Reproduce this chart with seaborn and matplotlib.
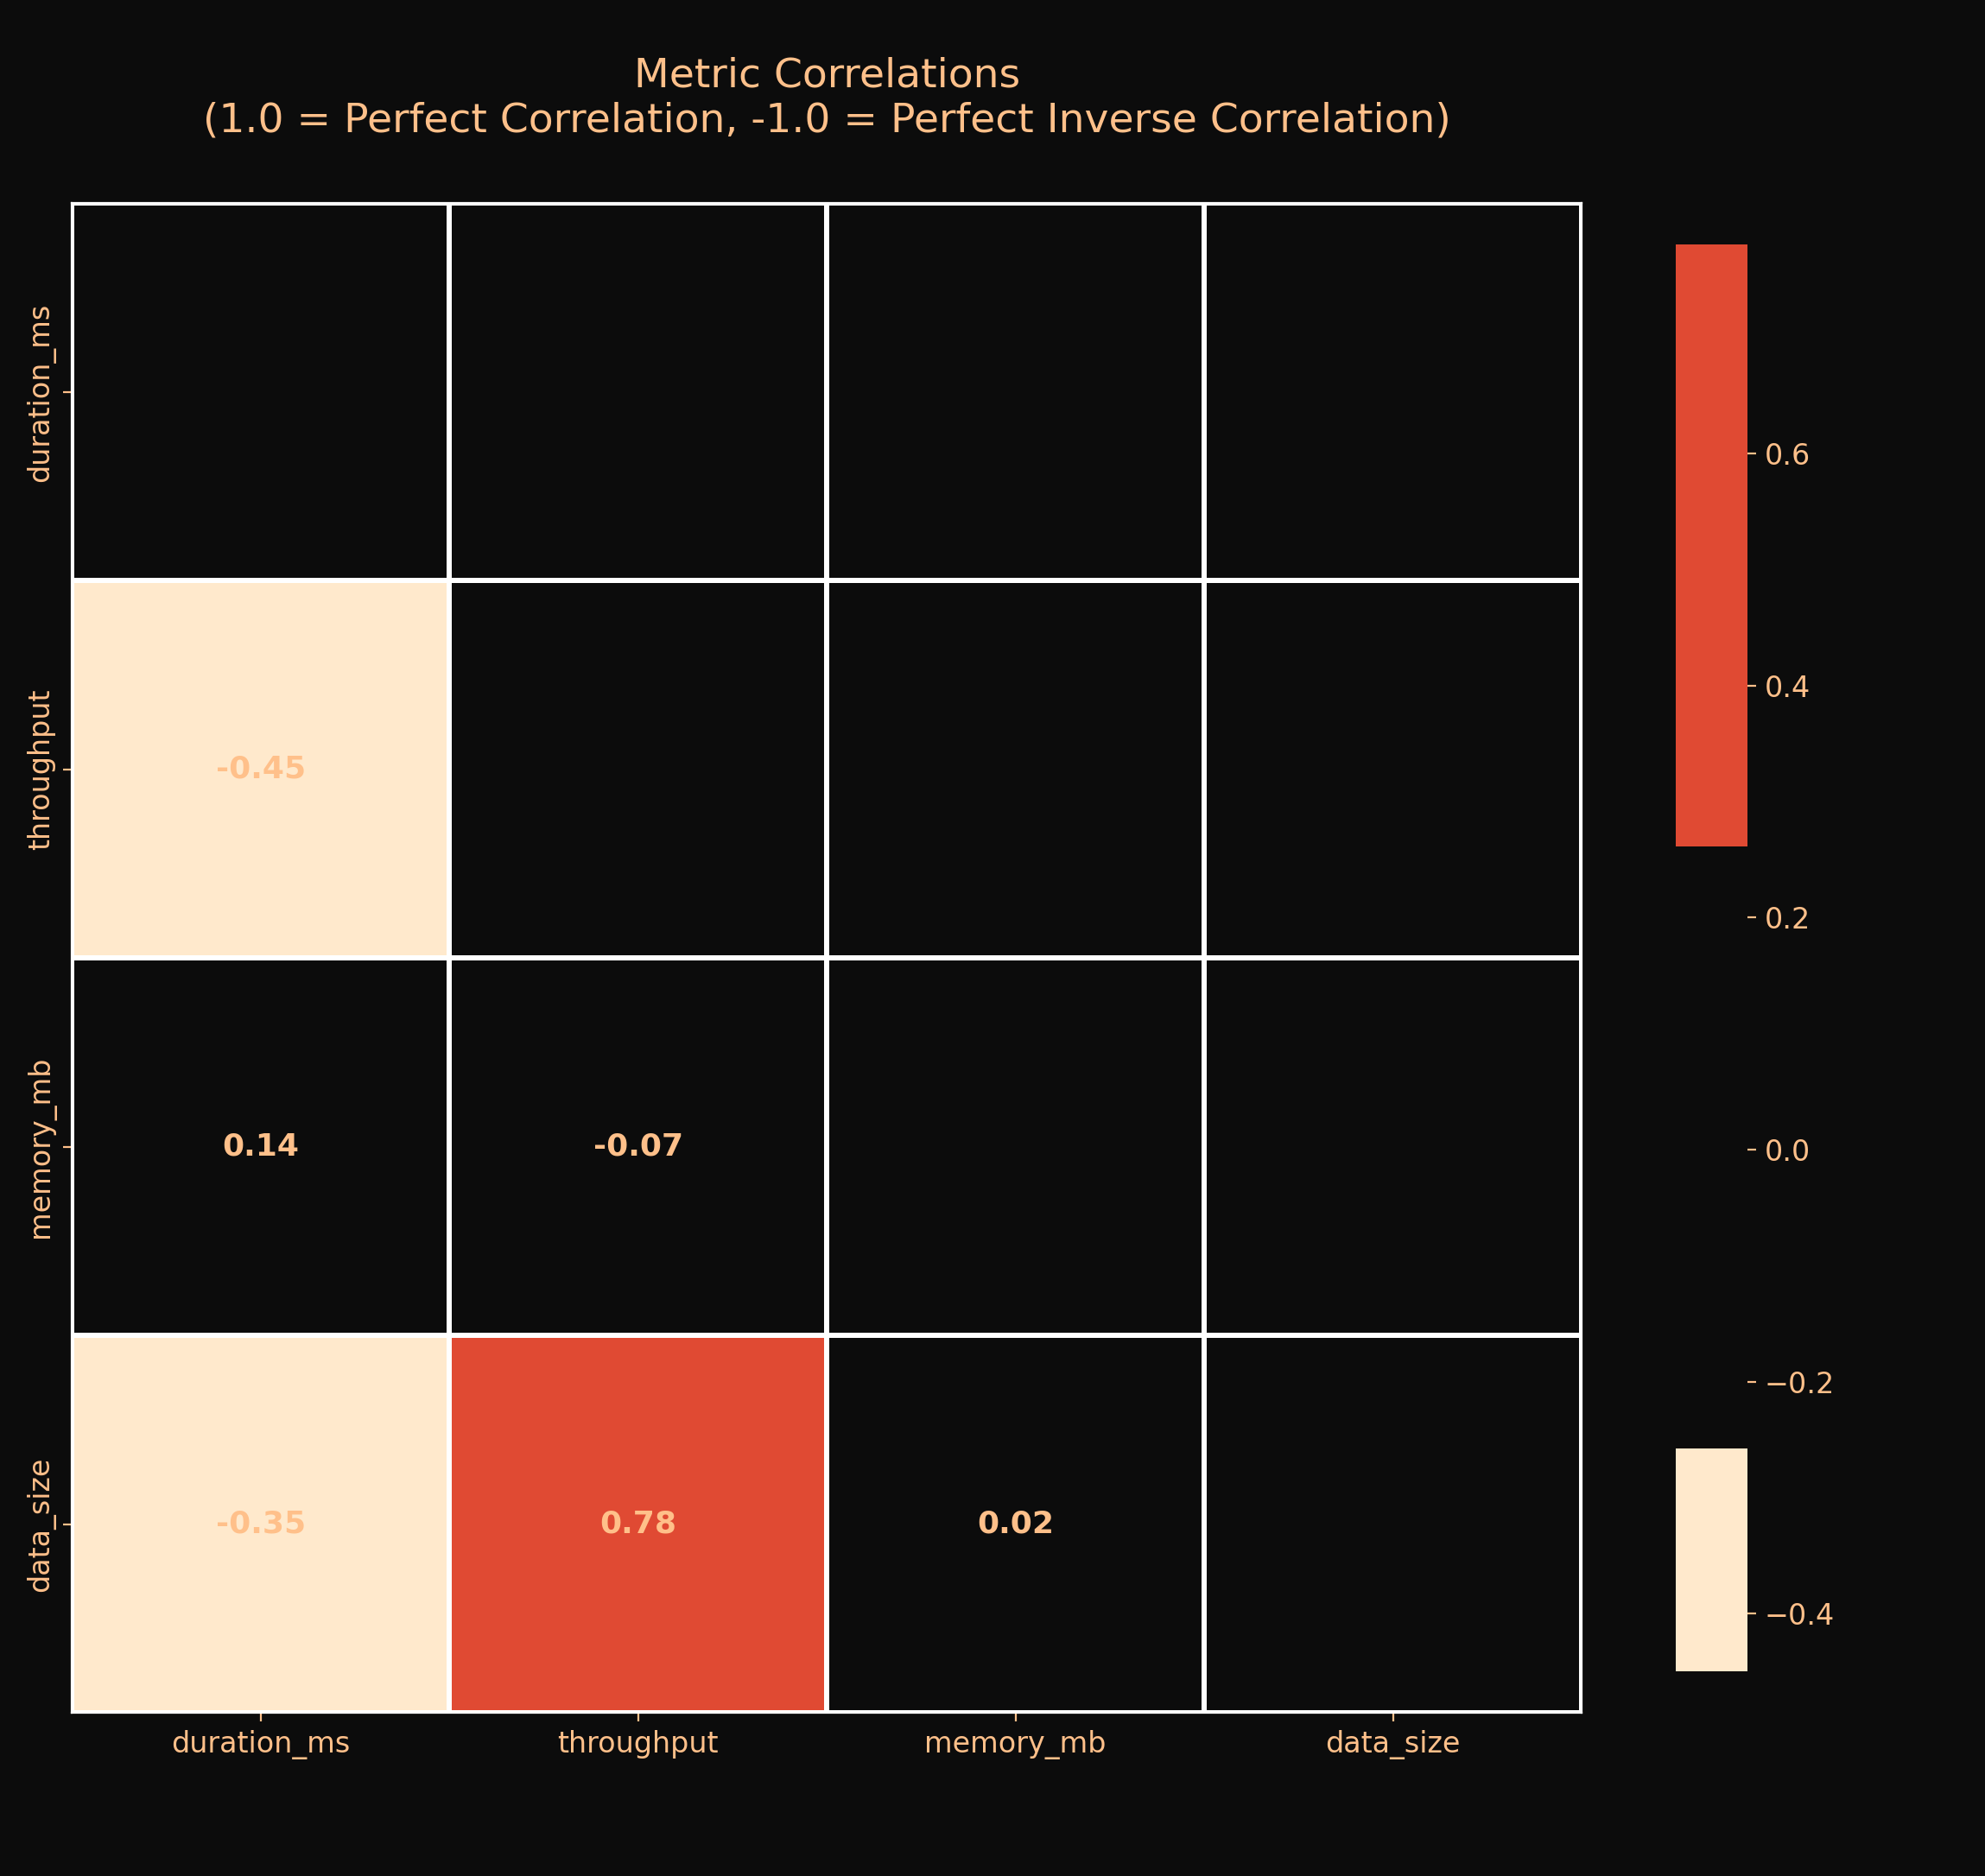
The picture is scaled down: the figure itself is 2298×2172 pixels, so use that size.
import numpy as np
import pandas as pd
import matplotlib.pyplot as plt
import seaborn as sns
from matplotlib.colors import ListedColormap

metrics = ["duration_ms", "throughput", "memory_mb", "data_size"]
corr_values = [
    [1.00, -0.45, 0.14, -0.35],
    [-0.45, 1.00, -0.07, 0.78],
    [0.14, -0.07, 1.00, 0.02],
    [-0.35, 0.78, 0.02, 1.00],
]

BG = "#0c0c0c"
TXT = "#ffc08a"

corr = pd.DataFrame(corr_values, index=metrics, columns=metrics)
mask = np.triu(np.ones_like(corr, dtype=bool))
# hide the upper triangle and diagonal, keep bounds from visible cells
vis = corr.where(~mask)

plt.rcParams.update({
    "figure.facecolor": BG, "axes.facecolor": BG, "savefig.facecolor": BG,
    "text.color": TXT, "axes.labelcolor": TXT, "xtick.color": TXT, "ytick.color": TXT,
})

cmap = ListedColormap(["#ffe9cc", BG, "#e04a33"])

fig, ax = plt.subplots(figsize=(11.49, 10.86), dpi=200)
sns.heatmap(corr, mask=mask, cmap=cmap, center=0,
            vmin=np.nanmin(vis.values), vmax=np.nanmax(vis.values),
            annot=True, fmt=".2f", square=True, linewidths=1.5, linecolor="white",
            annot_kws={"color": TXT, "weight": "bold", "size": 13},
            cbar_kws={"shrink": 0.8}, ax=ax)
# draw blank masked cells with white grid too
for i in range(len(metrics)):
    for j in range(len(metrics)):
        if mask[i, j]:
            ax.add_patch(plt.Rectangle((j, i), 1, 1, fill=False, edgecolor="white", lw=1.5))
for s in ax.spines.values():
    s.set_visible(True)
    s.set_color("white")

ax.set_title("Metric Correlations\n(1.0 = Perfect Correlation, -1.0 = Perfect Inverse Correlation)",
             fontsize=17, color=TXT, pad=30)
ax.tick_params(labelsize=12)
cb = ax.collections[0].colorbar
cb.ax.tick_params(labelsize=12, colors=TXT)
cb.outline.set_visible(False)

plt.tight_layout()
plt.savefig("out.png", dpi=200)
